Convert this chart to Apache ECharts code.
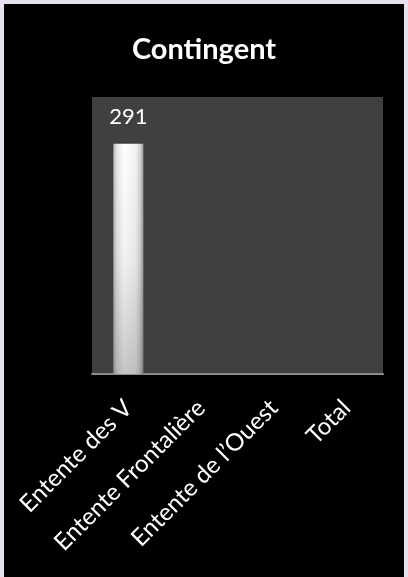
<!DOCTYPE html>
<html>
<head>
<meta charset="utf-8">
<script src="https://cdn.jsdelivr.net/npm/echarts@6/dist/echarts.min.js"></script>
<style>
  html, body { margin: 0; padding: 0; background: #e6e1ec; width: 408px; height: 577px; overflow: hidden; }
  #chart { position: absolute; left: 4px; top: 4px; width: 400px; height: 573px; background: #000; }
</style>
</head>
<body>
<div id="chart"></div>
<script>
var categories = ["Entente des V", "Entente Frontalière", "Entente de l\u2019Ouest", "Total"];
var contingent = [291, null, null, null];
var titleText = "Contingent";

var myChart = echarts.init(document.getElementById("chart"));
var option = {
  backgroundColor: "#000",
  animation: false,
  title: {
    text: titleText,
    left: "center",
    top: 26,
    textStyle: {
      color: "#fff",
      fontFamily: "Lato",
      fontWeight: "bold",
      fontSize: 29
    }
  },
  grid: {
    left: 88,
    top: 93,
    width: 291,
    height: 277,
    show: true,
    backgroundColor: "#404040",
    borderWidth: 0
  },
  xAxis: {
    type: "category",
    data: categories,
    axisLine: { lineStyle: { color: "#8c8c8c", width: 2 } },
    axisTick: { show: false },
    axisLabel: {
      rotate: 45,
      margin: 30,
      interval: 0,
      color: "#fff",
      fontFamily: "Lato",
      fontSize: 24
    }
  },
  yAxis: {
    type: "value",
    min: 0,
    max: 350,
    show: false,
    splitLine: { show: false }
  },
  series: [
    {
      name: "Contingent",
      type: "bar",
      data: contingent,
      barWidth: 30,
      itemStyle: {
        color: new echarts.graphic.LinearGradient(0, 0, 1, 0, [
          { offset: 0, color: "#b8b8b8" },
          { offset: 0.12, color: "#e4e4e4" },
          { offset: 0.35, color: "#ffffff" },
          { offset: 0.75, color: "#f2f2f2" },
          { offset: 0.9, color: "#d0d0d0" },
          { offset: 1, color: "#9a9a9a" }
        ])
      },
      label: {
        show: true,
        position: "top",
        distance: 16,
        color: "#fff",
        fontFamily: "Lato",
        fontSize: 22
      }
    },
    {
      name: "shade",
      type: "bar",
      data: contingent,
      barWidth: 30,
      barGap: "-100%",
      silent: true,
      itemStyle: {
        color: new echarts.graphic.LinearGradient(0, 0, 0, 1, [
          { offset: 0, color: "rgba(0,0,0,0)" },
          { offset: 0.5, color: "rgba(0,0,0,0.05)" },
          { offset: 1, color: "rgba(0,0,0,0.22)" }
        ])
      }
    }
  ]
};
myChart.setOption(option);
</script>
</body>
</html>
